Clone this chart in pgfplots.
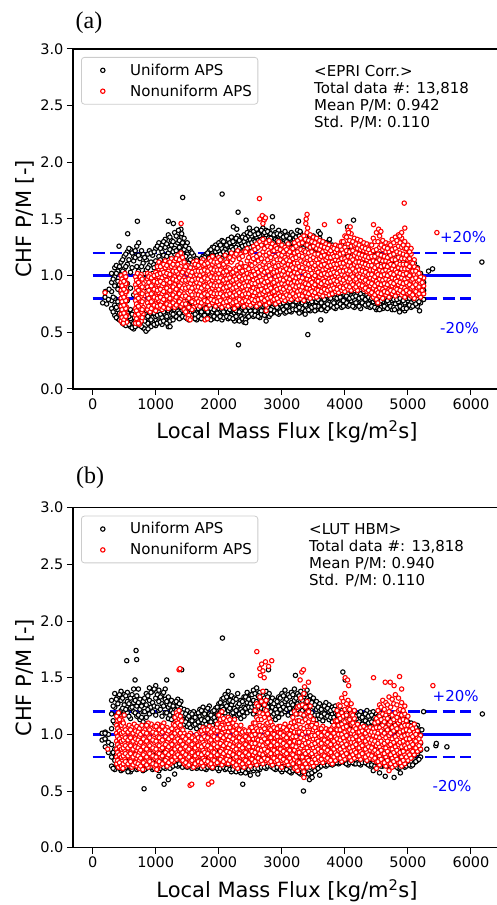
\documentclass[border=0pt]{standalone}
\usepackage{fontspec}
\setmainfont{DejaVu Sans}
\newfontfamily\lserif{Liberation Serif}
\usepackage{pgfplots}
\usepackage{pgfplotstable}
\pgfplotsset{compat=1.18}

% ---------------- Panel (a): EPRI Corr. ----------------
\pgfplotstableread{
x a b c d e f
300 0.71 0.78 0.86 0.94 1.02 nan
350 0.65 0.74 0.80 0.91 0.99 1.07
400 0.62 0.70 0.77 0.88 0.95 1.04
450 0.60 0.66 0.75 0.85 1.01 1.12
500 0.57 0.64 0.73 0.82 1.06 1.17
550 0.59 0.67 0.78 0.93 1.10 1.21
600 0.55 0.62 0.70 0.89 1.03 1.23
650 0.53 0.58 0.68 0.83 1.13 1.17
700 0.56 0.64 0.75 0.96 1.08 1.26
750 0.58 0.61 0.71 0.91 1.01 1.15
800 0.54 0.65 0.79 0.98 1.11 1.19
850 0.52 0.62 0.69 0.86 1.05 1.14
900 0.56 0.66 0.74 0.92 1.09 1.22
950 0.59 0.63 0.72 0.88 1.02 1.18
1000 0.56 0.64 0.70 0.84 1.13 1.24
1050 0.60 0.68 0.77 1.06 1.17 1.29
1100 0.57 0.63 0.71 1.10 1.21 1.27
1150 0.61 0.66 0.74 1.13 1.25 1.32
1200 0.55 0.69 0.76 1.15 1.20 1.36
1250 0.62 0.67 0.73 1.11 1.27 1.31
1300 0.63 0.70 0.77 1.19 1.24 1.38
1350 0.65 0.69 0.79 1.16 1.29 1.34
1400 0.63 0.72 0.76 1.21 1.26 1.41
1450 0.66 0.70 0.80 1.15 1.23 1.33
1500 0.62 0.68 0.75 1.12 1.19 1.29
1550 0.64 0.71 0.78 1.08 1.14 1.22
1600 0.63 0.68 0.74 1.04 1.11 1.18
1650 0.61 0.67 0.73 1.07 1.10 1.15
1700 0.65 0.70 0.77 1.03 1.09 1.13
1750 0.63 0.69 0.76 1.06 1.12 1.17
1800 0.66 0.72 0.79 1.09 1.14 1.19
1850 0.64 0.70 0.75 1.11 1.16 1.22
1900 0.62 0.68 0.74 1.13 1.18 1.25
1950 0.63 0.69 0.73 1.14 1.21 1.27
2000 0.64 0.71 0.77 1.16 1.22 1.29
2050 0.61 0.70 0.76 1.15 1.24 1.31
2100 0.66 0.72 0.78 1.19 1.23 1.28
2150 0.62 0.68 0.74 1.17 1.26 1.32
2200 0.65 0.69 0.75 1.21 1.25 1.34
2250 0.60 0.67 0.72 1.18 1.28 1.31
2300 0.62 0.66 0.73 1.22 1.27 1.35
2350 0.64 0.70 0.76 1.20 1.29 1.33
2400 0.59 0.67 0.74 1.24 1.30 1.36
2450 0.63 0.71 0.77 1.23 1.28 1.38
2500 0.65 0.69 0.75 1.25 1.32 1.37
2550 0.64 0.72 0.78 1.27 1.31 1.39
2600 0.66 0.70 0.76 1.24 1.34 1.41
2650 0.63 0.71 0.75 1.28 1.35 1.38
2700 0.67 0.73 0.78 1.30 1.33 1.42
2750 0.65 0.70 0.77 1.27 1.36 1.40
2800 0.64 0.69 0.75 1.29 1.37 1.39
2850 0.67 0.72 0.79 1.31 1.34 1.43
2900 0.68 0.74 0.80 1.26 1.32 1.38
2950 0.66 0.71 0.77 1.28 1.35 1.40
3000 0.69 0.73 0.78 1.27 1.33 1.37
3050 0.67 0.74 0.81 1.29 1.31 1.39
3100 0.70 0.72 0.79 1.25 1.34 1.36
3150 0.68 0.75 0.80 1.26 1.30 1.38
3200 0.71 0.73 0.82 1.28 1.32 1.35
3250 0.69 0.76 0.79 1.24 1.33 1.40
3300 0.68 0.74 0.80 1.27 1.30 1.37
3350 0.70 0.77 0.82 1.25 1.31 1.34
3400 0.72 0.75 0.81 1.23 1.29 1.36
3450 0.69 0.76 0.83 1.26 1.28 1.33
3500 0.71 0.74 0.80 1.22 1.30 1.35
3550 0.70 0.77 0.82 1.24 1.27 1.31
3600 0.72 0.75 0.81 1.21 1.26 1.33
3650 0.71 0.78 0.84 1.20 1.28 1.30
3700 0.69 0.76 0.82 1.19 1.24 1.29
3750 0.72 0.74 0.80 1.22 1.25 1.31
3800 0.73 0.78 0.83 1.18 1.23 1.27
3850 0.71 0.77 0.84 1.17 1.21 1.26
3900 0.74 0.76 0.82 1.16 1.22 1.24
3950 0.72 0.79 0.85 1.15 1.20 1.27
4000 0.74 0.77 0.83 1.17 1.19 1.23
4050 0.73 0.80 0.84 1.14 1.21 1.22
4100 0.75 0.78 0.86 1.13 1.18 1.24
4150 0.72 0.79 0.83 1.15 1.17 1.21
4200 0.74 0.77 0.85 1.12 1.19 1.20
4250 0.71 0.78 0.84 1.14 1.16 1.22
4300 0.75 0.80 0.86 1.11 1.18 1.19
4350 0.73 0.76 0.83 1.13 1.15 1.21
4400 0.72 0.79 0.84 1.10 1.17 1.18
4450 0.74 0.77 0.82 1.12 1.14 1.20
4500 0.70 0.78 0.85 1.09 1.16 1.17
4550 0.73 0.75 0.81 1.11 1.13 1.19
4600 0.71 0.77 0.83 1.08 1.15 1.16
4650 0.74 0.79 0.84 1.10 1.12 1.18
4700 0.72 0.76 0.82 1.07 1.14 1.15
4750 0.70 0.78 0.85 1.09 1.11 1.17
4800 0.73 0.75 0.81 1.08 1.13 1.16
4850 0.71 0.77 0.83 1.06 1.12 1.14
4900 0.74 0.79 0.84 1.09 1.10 1.15
4950 0.69 0.76 0.82 1.07 1.13 1.14
5000 0.73 0.78 0.85 1.05 1.11 1.12
5050 0.72 0.76 0.83 1.06 1.09 1.13
5100 0.74 0.80 0.86 1.04 1.08 1.11
5150 0.73 0.79 0.88 0.96 1.03 1.07
5200 0.76 0.83 0.91 0.98 1.02 nan
5250 0.79 0.87 0.94 nan nan nan
}\blackA

\pgfplotstableread{
x a b c d
325 0.68 0.81 0.97 nan
375 0.63 0.72 1.02 1.09
425 0.61 0.67 0.92 1.08
475 0.58 0.70 1.04 1.14
525 0.56 0.61 1.08 1.19
575 0.57 0.64 1.14 1.24
625 0.54 0.66 1.07 1.20
675 0.55 0.60 1.16 1.22
725 0.57 0.66 1.04 1.18
775 0.55 0.63 1.08 1.22
825 0.53 0.60 1.02 1.16
875 0.58 0.64 1.07 1.19
925 0.55 0.61 1.12 1.20
975 0.57 0.67 1.07 1.21
1025 0.58 0.65 1.10 1.26
1075 0.59 0.66 1.14 1.24
1125 0.60 0.68 1.18 1.30
1175 0.58 0.64 1.17 1.28
1225 0.60 0.71 1.23 1.34
1275 0.61 0.66 1.21 1.30
1325 0.64 0.72 1.22 1.35
1375 0.62 0.67 1.25 1.31
1425 0.64 0.74 1.19 1.29
1475 0.63 0.69 1.17 1.26
1525 0.61 0.73 1.11 1.24
1575 0.65 0.70 1.10 1.20
1625 0.62 0.66 1.08 1.13
1675 0.64 0.71 1.06 1.12
1725 0.62 0.68 1.09 1.15
1775 0.65 0.71 1.10 1.16
1825 0.63 0.68 1.12 1.20
1875 0.61 0.71 1.15 1.23
1925 0.64 0.70 1.16 1.25
1975 0.62 0.67 1.18 1.24
2025 0.65 0.73 1.19 1.27
2075 0.63 0.68 1.21 1.30
2125 0.64 0.71 1.20 1.27
2175 0.63 0.70 1.22 1.29
2225 0.62 0.71 1.23 1.30
2275 0.64 0.69 1.25 1.33
2325 0.60 0.68 1.24 1.31
2375 0.62 0.72 1.26 1.34
2425 0.61 0.69 1.27 1.33
2475 0.64 0.72 1.28 1.35
2525 0.66 0.73 1.29 1.35
2575 0.65 0.69 1.30 1.36
2625 0.64 0.73 1.31 1.37
2675 0.66 0.69 1.32 1.40
2725 0.65 0.74 1.33 1.38
2775 0.67 0.72 1.31 1.39
2825 0.66 0.70 1.33 1.37
2875 0.69 0.75 1.29 1.36
2925 0.67 0.72 1.31 1.37
2975 0.68 0.75 1.30 1.36
3025 0.70 0.76 1.28 1.34
3075 0.68 0.73 1.30 1.35
3125 0.69 0.77 1.28 1.33
3175 0.70 0.74 1.29 1.36
3225 0.70 0.77 1.30 1.34
3275 0.67 0.72 1.28 1.35
3325 0.71 0.76 1.29 1.33
3375 0.69 0.74 1.27 1.35
3425 0.70 0.78 1.26 1.31
3475 0.72 0.77 1.25 1.32
3525 0.69 0.73 1.24 1.29
3575 0.73 0.79 1.23 1.30
3625 0.70 0.76 1.23 1.27
3675 0.73 0.79 1.22 1.27
3725 0.71 0.75 1.21 1.26
3775 0.74 0.80 1.20 1.25
3825 0.72 0.76 1.19 1.24
3875 0.73 0.80 1.18 1.23
3925 0.75 0.81 1.18 1.21
3975 0.73 0.78 1.17 1.22
4025 0.76 0.82 1.16 1.20
4075 0.74 0.80 1.15 1.22
4125 0.73 0.81 1.16 1.19
4175 0.76 0.82 1.15 1.20
4225 0.73 0.80 1.14 1.18
4275 0.76 0.81 1.13 1.19
4325 0.74 0.79 1.14 1.17
4375 0.75 0.81 1.12 1.19
4425 0.73 0.80 1.13 1.16
4475 0.72 0.79 1.11 1.18
4525 0.71 0.79 1.12 1.15
4575 0.72 0.78 1.10 1.17
4625 0.73 0.80 1.11 1.14
4675 0.71 0.78 1.09 1.16
4725 0.73 0.80 1.10 1.13
4775 0.72 0.79 1.10 1.15
4825 0.72 0.79 1.09 1.14
4875 0.73 0.80 1.07 1.13
4925 0.71 0.78 1.08 1.12
4975 0.71 0.80 1.06 1.10
5025 0.74 0.80 1.07 1.11
5075 0.73 0.82 1.05 1.09
5125 0.75 0.83 1.01 1.05
5175 0.77 0.86 0.93 1.00
}\blackAA

\pgfplotstableread{
x a b c d e f g
450 0.60 0.66 0.73 0.80 0.87 0.94 1.00
480 0.58 0.64 0.70 0.77 0.85 0.92 0.98
510 0.62 0.68 0.75 0.83 0.90 0.96 1.02
540 0.59 0.65 0.72 0.79 0.86 0.93 nan
680 0.58 0.65 0.71 0.78 0.85 0.92 0.99
710 0.61 0.67 0.74 0.81 0.88 0.95 1.02
740 0.57 0.63 0.70 0.77 0.84 0.91 0.98
770 0.60 0.68 0.75 0.82 0.89 0.96 1.01
800 0.66 0.72 0.79 0.86 0.93 nan nan
870 0.70 0.76 0.83 0.90 0.97 1.02 nan
910 0.68 0.74 0.81 0.88 0.95 1.01 nan
950 0.71 0.78 0.85 0.92 0.99 nan nan
1000 0.69 0.75 0.82 0.89 0.96 1.03 nan
1050 0.72 0.78 0.85 0.92 0.99 1.06 1.12
1100 0.70 0.77 0.84 0.91 0.98 1.05 1.10
1150 0.73 0.79 0.86 0.93 1.00 1.07 1.13
1200 0.71 0.76 0.83 0.90 0.97 1.04 1.11
1250 0.74 0.80 0.87 0.94 1.01 1.08 1.15
1300 0.72 0.78 0.85 0.92 0.99 1.06 1.13
1350 0.75 0.81 0.88 0.95 1.02 1.10 1.18
1400 0.73 0.79 0.86 0.93 1.00 1.08 1.20
1450 0.70 0.77 0.84 0.91 0.98 1.05 1.12
1500 0.66 0.74 0.81 0.88 0.95 1.02 1.09
1550 0.63 0.71 0.79 0.86 0.93 1.00 1.07
1600 0.72 0.78 0.85 0.92 0.99 1.06 1.12
1650 0.74 0.80 0.87 0.94 1.01 1.08 1.13
1700 0.73 0.79 0.86 0.93 1.00 1.07 1.11
1750 0.75 0.81 0.88 0.95 1.02 1.09 1.14
1800 0.71 0.78 0.85 0.92 0.99 1.06 1.12
1850 0.74 0.80 0.87 0.94 1.01 1.08 1.15
1900 0.76 0.82 0.89 0.96 1.03 1.10 1.17
1950 0.73 0.79 0.86 0.93 1.00 1.07 1.14
2000 0.75 0.81 0.88 0.95 1.02 1.09 1.16
2050 0.72 0.78 0.85 0.92 0.99 1.06 1.13
2100 0.74 0.80 0.87 0.94 1.01 1.08 1.18
2150 0.73 0.79 0.86 0.93 1.00 1.07 1.15
2200 0.75 0.81 0.88 0.95 1.02 1.12 1.20
2250 0.72 0.78 0.85 0.92 0.99 1.06 1.17
2300 0.74 0.80 0.87 0.94 1.01 1.09 1.22
2350 0.76 0.82 0.89 0.96 1.03 1.11 1.19
2400 0.73 0.79 0.86 0.93 1.00 1.08 1.21
2450 0.75 0.81 0.88 0.95 1.02 1.13 1.24
2500 0.74 0.80 0.87 0.94 1.01 1.10 1.20
2550 0.76 0.82 0.89 0.96 1.04 1.15 1.26
2600 0.73 0.80 0.88 0.97 1.06 1.17 1.28
2650 0.75 0.83 0.91 0.99 1.08 1.19 1.30
2700 0.77 0.84 0.92 1.01 1.10 1.21 1.32
2750 0.74 0.82 0.90 0.98 1.07 1.18 1.29
2800 0.76 0.83 0.91 1.00 1.09 1.20 1.31
2850 0.78 0.85 0.93 1.02 1.11 1.22 1.28
2900 0.75 0.82 0.90 0.99 1.08 1.17 1.26
2950 0.77 0.84 0.92 1.00 1.09 1.19 1.30
3000 0.79 0.86 0.93 1.01 1.10 1.18 1.27
3050 0.78 0.85 0.92 1.00 1.08 1.16 1.25
3100 0.80 0.87 0.94 1.02 1.10 1.19 1.28
3150 0.79 0.86 0.93 1.01 1.09 1.17 1.24
3200 0.81 0.88 0.95 1.03 1.11 1.20 1.29
3250 0.79 0.86 0.94 1.02 1.11 1.21 1.31
3300 0.80 0.87 0.95 1.04 1.13 1.23 1.33
3350 0.78 0.86 0.94 1.03 1.12 1.22 1.35
3400 0.82 0.89 0.97 1.06 1.16 1.27 1.38
3450 0.80 0.88 0.96 1.05 1.14 1.25 1.36
3500 0.83 0.90 0.98 1.07 1.16 1.26 1.34
3550 0.81 0.88 0.96 1.05 1.14 1.24 1.33
3600 0.84 0.91 0.99 1.07 1.15 1.23 1.31
3650 0.82 0.89 0.97 1.05 1.13 1.21 1.30
3700 0.85 0.92 0.99 1.06 1.14 1.22 1.28
3750 0.83 0.90 0.97 1.04 1.12 1.20 1.27
3800 0.84 0.91 0.98 1.05 1.12 1.19 1.25
3850 0.86 0.93 1.00 1.07 1.14 1.21 1.27
3900 0.85 0.92 0.99 1.06 1.13 1.20 1.26
3950 0.87 0.94 1.01 1.08 1.15 1.23 1.30
4000 0.86 0.93 1.00 1.07 1.15 1.25 1.35
4050 0.88 0.95 1.02 1.09 1.17 1.28 1.40
4100 0.87 0.94 1.01 1.08 1.16 1.26 1.37
4150 0.89 0.96 1.03 1.10 1.18 1.27 1.33
4200 0.87 0.94 1.01 1.08 1.16 1.24 1.32
4250 0.90 0.96 1.02 1.09 1.16 1.23 1.31
4300 0.88 0.95 1.01 1.08 1.15 1.22 1.29
4350 0.86 0.93 1.00 1.07 1.14 1.21 1.28
4400 0.84 0.91 0.98 1.05 1.12 1.20 1.27
4450 0.81 0.89 0.97 1.05 1.13 1.22 1.33
4500 0.79 0.87 0.95 1.03 1.12 1.23 1.38
4550 0.82 0.89 0.97 1.05 1.14 1.25 1.35
4600 0.80 0.88 0.96 1.04 1.13 1.23 1.31
4650 0.83 0.90 0.97 1.05 1.13 1.21 1.29
4700 0.81 0.88 0.96 1.04 1.12 1.21 1.28
4750 0.84 0.91 0.98 1.06 1.14 1.23 1.32
4800 0.82 0.89 0.97 1.05 1.14 1.24 1.34
4850 0.85 0.92 0.99 1.07 1.16 1.26 1.36
4900 0.83 0.90 0.98 1.06 1.15 1.25 1.33
4950 0.81 0.89 0.97 1.06 1.15 1.24 1.30
5000 0.84 0.91 0.98 1.06 1.14 1.22 1.27
5050 0.82 0.89 0.96 1.04 1.12 1.19 1.24
5100 0.80 0.87 0.94 1.01 1.08 1.14 nan
5150 0.83 0.89 0.95 1.01 1.06 nan nan
5200 0.81 0.87 0.93 0.99 nan nan nan
5250 0.84 0.91 0.98 nan nan nan nan
}\redA

\pgfplotstableread{
x a b c d e f
465 0.63 0.70 0.77 0.84 0.91 0.97
495 0.61 0.67 0.74 0.81 0.88 0.95
525 0.64 0.71 0.78 0.86 0.93 0.99
695 0.62 0.69 0.75 0.82 0.89 0.96
725 0.59 0.66 0.73 0.80 0.87 0.94
755 0.64 0.71 0.78 0.85 0.92 0.99
785 0.63 0.70 0.77 0.84 0.90 0.97
890 0.73 0.80 0.87 0.94 0.99 nan
930 0.71 0.77 0.84 0.91 0.98 nan
975 0.74 0.81 0.88 0.95 1.00 nan
1025 0.73 0.80 0.87 0.94 1.01 1.08
1075 0.74 0.81 0.88 0.95 1.02 1.08
1125 0.72 0.79 0.86 0.93 1.03 1.10
1175 0.75 0.82 0.89 0.96 1.02 1.09
1225 0.74 0.80 0.87 0.94 1.01 1.12
1275 0.76 0.83 0.90 0.97 1.04 1.10
1325 0.74 0.81 0.88 0.96 1.04 1.15
1375 0.77 0.84 0.91 0.98 1.06 1.14
1425 0.75 0.82 0.89 0.96 1.03 1.16
1475 0.68 0.75 0.82 0.89 0.96 1.08
1525 0.65 0.72 0.80 0.90 0.97 1.04
1575 0.70 0.77 0.83 0.89 0.96 1.03
1625 0.76 0.83 0.90 0.97 1.04 1.10
1675 0.77 0.83 0.90 0.97 1.04 1.09
1725 0.76 0.82 0.89 0.96 1.04 1.12
1775 0.78 0.84 0.91 0.98 1.05 1.10
1825 0.77 0.83 0.90 0.97 1.04 1.11
1875 0.79 0.85 0.92 0.99 1.06 1.13
1925 0.78 0.84 0.91 0.98 1.05 1.12
1975 0.77 0.84 0.91 0.98 1.05 1.12
2025 0.78 0.84 0.91 0.98 1.05 1.14
2075 0.76 0.82 0.89 0.96 1.03 1.10
2125 0.77 0.83 0.90 0.97 1.04 1.12
2175 0.78 0.84 0.91 0.98 1.06 1.16
2225 0.76 0.82 0.89 0.96 1.03 1.14
2275 0.77 0.83 0.90 0.97 1.05 1.19
2325 0.79 0.85 0.92 0.99 1.07 1.15
2375 0.77 0.83 0.90 0.97 1.04 1.17
2425 0.78 0.84 0.91 0.98 1.08 1.21
2475 0.77 0.84 0.91 0.98 1.06 1.16
2525 0.79 0.86 0.93 1.00 1.09 1.21
2575 0.78 0.85 0.93 1.01 1.11 1.23
2625 0.79 0.87 0.95 1.03 1.13 1.25
2675 0.80 0.88 0.96 1.05 1.15 1.27
2725 0.78 0.86 0.94 1.03 1.12 1.24
2775 0.80 0.87 0.95 1.04 1.14 1.26
2825 0.81 0.89 0.97 1.06 1.16 1.25
2875 0.79 0.86 0.94 1.03 1.12 1.22
2925 0.80 0.88 0.96 1.04 1.14 1.24
2975 0.82 0.89 0.97 1.05 1.14 1.23
3025 0.81 0.88 0.96 1.04 1.12 1.21
3075 0.83 0.90 0.98 1.06 1.14 1.23
3125 0.82 0.89 0.97 1.05 1.13 1.21
3175 0.84 0.91 0.99 1.07 1.15 1.24
3225 0.82 0.90 0.98 1.06 1.16 1.26
3275 0.83 0.91 0.99 1.08 1.18 1.28
3325 0.82 0.90 0.98 1.07 1.17 1.29
3375 0.85 0.93 1.01 1.11 1.21 1.32
3425 0.84 0.92 1.00 1.10 1.20 1.31
3475 0.86 0.94 1.02 1.11 1.21 1.30
3525 0.85 0.92 1.00 1.09 1.19 1.29
3575 0.87 0.95 1.03 1.11 1.19 1.27
3625 0.86 0.93 1.01 1.09 1.17 1.26
3675 0.88 0.95 1.02 1.10 1.18 1.25
3725 0.87 0.94 1.01 1.08 1.16 1.24
3775 0.88 0.95 1.02 1.09 1.16 1.22
3825 0.89 0.96 1.03 1.10 1.17 1.24
3875 0.88 0.95 1.02 1.10 1.17 1.23
3925 0.90 0.97 1.04 1.11 1.19 1.26
3975 0.89 0.96 1.04 1.11 1.20 1.30
4025 0.91 0.98 1.05 1.13 1.22 1.34
4075 0.90 0.97 1.04 1.12 1.21 1.31
4125 0.92 0.99 1.06 1.14 1.22 1.30
4175 0.90 0.97 1.04 1.12 1.20 1.28
4225 0.92 0.99 1.05 1.12 1.19 1.27
4275 0.91 0.98 1.04 1.11 1.18 1.25
4325 0.89 0.96 1.03 1.10 1.17 1.24
4375 0.87 0.94 1.01 1.09 1.16 1.23
4425 0.85 0.93 1.01 1.09 1.17 1.27
4475 0.83 0.91 0.99 1.07 1.17 1.30
4525 0.85 0.93 1.01 1.09 1.19 1.30
4575 0.84 0.92 1.00 1.08 1.18 1.27
4625 0.86 0.93 1.01 1.09 1.17 1.25
4675 0.85 0.92 1.00 1.08 1.16 1.24
4725 0.87 0.94 1.02 1.10 1.18 1.27
4775 0.86 0.93 1.01 1.09 1.19 1.29
4825 0.88 0.95 1.03 1.11 1.21 1.31
4875 0.87 0.94 1.02 1.10 1.20 1.29
4925 0.85 0.93 1.01 1.10 1.19 1.27
4975 0.87 0.94 1.02 1.10 1.18 1.24
5025 0.85 0.92 1.00 1.08 1.15 1.21
5075 0.83 0.90 0.97 1.04 1.11 nan
5125 0.86 0.92 0.98 1.04 nan nan
5175 0.84 0.90 0.96 1.02 nan nan
5225 0.87 0.94 nan nan nan nan
}\redAA

% ---------------- Panel (b): LUT HBM ----------------
\pgfplotstableread{
x a b c d e f
150 0.95 1.01 nan nan nan nan
200 0.89 0.96 1.02 nan nan nan
250 0.84 0.93 1.00 nan nan nan
300 0.72 0.80 0.91 1.05 1.18 1.30
350 0.69 0.77 0.87 1.10 1.24 1.36
400 0.71 0.79 0.93 1.15 1.27 1.33
450 0.68 0.75 0.85 1.21 1.30 1.38
500 0.72 0.80 0.89 1.17 1.26 1.35
550 0.70 0.76 0.84 1.19 1.29 1.37
600 0.67 0.74 0.82 1.14 1.23 1.32
650 0.71 0.78 0.86 1.20 1.28 1.40
700 0.69 0.75 0.83 1.16 1.25 1.34
750 0.72 0.79 0.87 1.13 1.22 1.31
800 0.68 0.76 0.85 1.11 1.20 1.29
850 0.70 0.77 0.84 1.15 1.26 1.36
900 0.73 0.80 0.88 1.18 1.30 1.41
950 0.69 0.76 0.83 1.20 1.28 1.38
1000 0.71 0.78 0.86 1.17 1.32 1.43
1050 0.68 0.75 0.84 1.21 1.29 1.39
1100 0.72 0.79 0.87 1.16 1.27 1.35
1150 0.70 0.77 0.85 1.19 1.31 1.40
1200 0.73 0.80 0.88 1.14 1.24 1.33
1250 0.71 0.78 0.86 1.13 1.21 1.30
1300 0.74 0.80 0.87 1.15 1.22 1.28
1350 0.72 0.79 0.85 1.18 1.25 1.31
1400 0.75 0.81 0.88 1.16 1.23 1.29
1450 0.73 0.78 0.86 1.09 1.17 1.22
1500 0.71 0.77 0.84 1.07 1.14 1.21
1550 0.74 0.80 0.87 1.06 1.12 1.19
1600 0.72 0.79 0.85 1.08 1.15 1.20
1650 0.70 0.77 0.83 1.05 1.13 1.18
1700 0.73 0.78 0.86 1.07 1.16 1.22
1750 0.71 0.76 0.84 1.10 1.17 1.24
1800 0.69 0.75 0.82 1.09 1.15 1.21
1850 0.72 0.78 0.85 1.11 1.18 1.25
1900 0.70 0.76 0.83 1.08 1.14 1.20
1950 0.73 0.79 0.86 1.12 1.19 1.23
2000 0.68 0.75 0.82 1.14 1.21 1.27
2050 0.71 0.77 0.84 1.16 1.24 1.31
2100 0.69 0.76 0.83 1.19 1.27 1.35
2150 0.72 0.78 0.85 1.21 1.29 1.38
2200 0.67 0.74 0.81 1.18 1.26 1.34
2250 0.70 0.77 0.84 1.15 1.23 1.32
2300 0.68 0.75 0.82 1.17 1.25 1.36
2350 0.66 0.73 0.80 1.14 1.22 1.30
2400 0.69 0.76 0.83 1.16 1.24 1.33
2450 0.67 0.74 0.81 1.19 1.28 1.37
2500 0.70 0.77 0.84 1.21 1.27 1.35
2550 0.68 0.75 0.82 1.18 1.30 1.39
2600 0.71 0.78 0.85 1.20 1.29 1.41
2650 0.69 0.76 0.83 1.22 1.31 1.37
2700 0.72 0.79 0.86 1.19 1.27 1.34
2750 0.70 0.77 0.84 1.17 1.26 1.38
2800 0.73 0.80 0.87 1.21 1.28 1.36
2850 0.71 0.78 0.85 1.16 1.24 1.32
2900 0.69 0.76 0.83 1.13 1.22 1.30
2950 0.72 0.79 0.86 1.15 1.25 1.33
3000 0.67 0.75 0.82 1.18 1.27 1.36
3050 0.70 0.77 0.84 1.20 1.29 1.39
3100 0.68 0.74 0.81 1.17 1.26 1.35
3150 0.66 0.73 0.80 1.19 1.28 1.37
3200 0.69 0.76 0.83 1.22 1.30 1.40
3250 0.67 0.74 0.81 1.18 1.27 1.36
3300 0.65 0.72 0.79 1.20 1.29 1.38
3350 0.68 0.75 0.82 1.16 1.25 1.33
3400 0.66 0.73 0.80 1.19 1.28 1.39
3450 0.64 0.71 0.78 1.17 1.26 1.34
3500 0.67 0.74 0.81 1.15 1.24 1.32
3550 0.69 0.76 0.83 1.13 1.22 1.29
3600 0.71 0.77 0.84 1.14 1.21 1.27
3650 0.73 0.79 0.85 1.12 1.19 1.25
3700 0.72 0.78 0.84 1.15 1.22 1.28
3750 0.74 0.80 0.86 1.13 1.20 1.26
3800 0.73 0.79 0.85 1.11 1.18 1.24
3850 0.75 0.81 0.87 1.12 1.19 1.25
3900 0.74 0.80 0.86 1.10 1.17 1.23
3950 0.76 0.82 0.88 1.11 1.16 1.21
4000 0.75 0.81 0.87 1.09 1.15 1.20
4050 0.73 0.79 0.85 1.10 1.16 1.22
4100 0.76 0.82 0.88 1.08 1.14 1.19
4150 0.74 0.80 0.86 1.09 1.15 1.21
4200 0.75 0.81 0.87 1.07 1.13 1.18
4250 0.73 0.79 0.85 1.08 1.14 1.20
4300 0.76 0.82 0.88 1.06 1.12 1.17
4350 0.74 0.80 0.86 1.09 1.15 1.21
4400 0.72 0.78 0.84 1.07 1.13 1.19
4450 0.75 0.81 0.87 1.08 1.14 1.20
4500 0.71 0.77 0.83 1.06 1.12 1.18
4550 0.73 0.79 0.85 1.07 1.13 1.19
4600 0.72 0.78 0.84 1.05 1.11 1.17
4650 0.74 0.80 0.86 1.06 1.12 1.16
4700 0.71 0.77 0.83 1.04 1.10 1.15
4750 0.73 0.79 0.85 1.05 1.11 1.14
4800 0.72 0.78 0.84 1.03 1.09 1.13
4850 0.70 0.77 0.83 1.04 1.10 1.14
4900 0.73 0.79 0.85 1.02 1.08 1.12
4950 0.71 0.78 0.84 1.03 1.09 1.13
5000 0.74 0.80 0.86 1.01 1.07 1.11
5050 0.72 0.79 0.85 1.00 1.06 1.10
5100 0.75 0.81 0.87 0.99 1.05 1.09
5150 0.77 0.83 0.89 0.97 1.03 1.08
5200 0.80 0.86 0.92 0.99 1.04 nan
}\blackB

\pgfplotstableread{
x a b c d
325 0.70 0.84 1.12 1.25
375 0.73 0.82 1.17 1.31
425 0.70 0.81 1.19 1.35
475 0.69 0.78 1.23 1.32
525 0.71 0.82 1.22 1.34
575 0.68 0.79 1.16 1.27
625 0.69 0.80 1.24 1.35
675 0.73 0.80 1.19 1.30
725 0.70 0.81 1.17 1.28
775 0.71 0.78 1.15 1.25
825 0.69 0.81 1.20 1.32
875 0.71 0.79 1.22 1.34
925 0.71 0.80 1.24 1.37
975 0.70 0.81 1.25 1.40
1025 0.73 0.80 1.24 1.35
1075 0.70 0.81 1.22 1.33
1125 0.71 0.83 1.25 1.37
1175 0.72 0.81 1.19 1.29
1225 0.70 0.82 1.17 1.26
1275 0.72 0.83 1.19 1.25
1325 0.73 0.82 1.21 1.29
1375 0.74 0.84 1.20 1.27
1425 0.71 0.82 1.13 1.19
1475 0.72 0.81 1.11 1.18
1525 0.73 0.83 1.09 1.16
1575 0.70 0.82 1.12 1.18
1625 0.71 0.80 1.09 1.15
1675 0.72 0.81 1.11 1.19
1725 0.70 0.80 1.13 1.21
1775 0.70 0.79 1.12 1.18
1825 0.71 0.82 1.14 1.23
1875 0.71 0.79 1.11 1.17
1925 0.72 0.82 1.15 1.21
1975 0.70 0.80 1.17 1.24
2025 0.70 0.81 1.20 1.28
2075 0.71 0.80 1.22 1.32
2125 0.70 0.82 1.25 1.33
2175 0.69 0.79 1.23 1.30
2225 0.69 0.81 1.19 1.29
2275 0.67 0.79 1.21 1.31
2325 0.68 0.77 1.18 1.27
2375 0.68 0.79 1.20 1.29
2425 0.66 0.78 1.23 1.33
2475 0.69 0.80 1.24 1.31
2525 0.70 0.79 1.24 1.35
2575 0.70 0.82 1.25 1.36
2625 0.70 0.80 1.26 1.34
2675 0.71 0.82 1.23 1.31
2725 0.71 0.81 1.22 1.32
2775 0.72 0.82 1.24 1.33
2825 0.72 0.81 1.20 1.29
2875 0.70 0.80 1.18 1.27
2925 0.71 0.79 1.19 1.29
2975 0.69 0.78 1.22 1.32
3025 0.69 0.80 1.24 1.34
3075 0.69 0.78 1.22 1.31
3125 0.67 0.77 1.23 1.33
3175 0.68 0.79 1.26 1.35
3225 0.68 0.78 1.24 1.32
3275 0.66 0.76 1.25 1.34
3325 0.67 0.78 1.21 1.30
3375 0.65 0.77 1.23 1.35
3425 0.65 0.75 1.21 1.30
3475 0.66 0.77 1.19 1.28
3525 0.68 0.79 1.17 1.26
3575 0.70 0.80 1.17 1.24
3625 0.72 0.81 1.16 1.22
3675 0.73 0.81 1.18 1.25
3725 0.73 0.83 1.16 1.23
3775 0.74 0.82 1.15 1.21
3825 0.74 0.84 1.15 1.22
3875 0.75 0.83 1.13 1.20
3925 0.75 0.85 1.14 1.19
3975 0.76 0.84 1.12 1.18
4025 0.74 0.83 1.13 1.19
4075 0.75 0.85 1.11 1.17
4125 0.75 0.83 1.12 1.18
4175 0.74 0.84 1.10 1.16
4225 0.74 0.82 1.11 1.17
4275 0.75 0.85 1.09 1.15
4325 0.75 0.83 1.12 1.18
4375 0.73 0.82 1.10 1.16
4425 0.73 0.84 1.11 1.17
4475 0.72 0.80 1.09 1.15
4525 0.72 0.82 1.10 1.16
4575 0.72 0.81 1.08 1.14
4625 0.73 0.83 1.09 1.14
4675 0.72 0.80 1.07 1.13
4725 0.72 0.82 1.08 1.12
4775 0.72 0.81 1.06 1.11
4825 0.71 0.80 1.07 1.12
4875 0.71 0.81 1.05 1.11
4925 0.72 0.82 1.06 1.10
4975 0.72 0.83 1.04 1.09
5025 0.73 0.82 1.03 1.08
5075 0.73 0.84 1.02 1.07
5125 0.76 0.85 1.00 1.06
5175 0.78 0.88 0.98 1.03
}\blackBB

\pgfplotstableread{
x a b c d e f g
380 0.74 0.80 0.87 0.94 1.01 1.08 1.16
410 0.71 0.78 0.85 0.92 0.99 1.06 1.19
440 0.73 0.81 0.88 0.95 1.02 1.10 1.14
470 0.70 0.77 0.84 0.91 0.98 1.05 1.12
500 0.72 0.79 0.86 0.93 1.00 1.07 1.17
540 0.75 0.82 0.89 0.96 1.03 nan nan
580 0.73 0.80 0.87 0.94 1.01 1.08 nan
620 0.71 0.78 0.85 0.92 0.99 1.06 nan
660 0.74 0.81 0.88 0.95 1.02 1.09 nan
700 0.72 0.79 0.86 0.93 1.00 1.07 nan
740 0.70 0.77 0.84 0.91 0.98 1.05 nan
780 0.73 0.80 0.87 0.94 1.01 1.08 nan
830 0.76 0.83 0.90 0.97 1.04 nan nan
880 0.71 0.78 0.85 0.92 0.99 1.06 1.10
930 0.74 0.81 0.88 0.95 1.02 1.09 nan
980 0.72 0.79 0.86 0.93 1.00 1.07 nan
1030 0.70 0.77 0.84 0.91 0.98 1.05 1.09
1080 0.73 0.80 0.87 0.94 1.01 1.08 nan
1130 0.75 0.82 0.89 0.96 1.03 1.10 nan
1180 0.72 0.79 0.86 0.93 1.00 1.06 nan
1230 0.74 0.81 0.88 0.95 1.02 nan nan
1280 0.76 0.83 0.90 0.97 1.04 1.09 nan
1330 0.78 0.85 0.92 0.99 1.06 1.13 1.19
1370 0.80 0.86 0.93 1.00 1.07 1.14 1.21
1410 0.77 0.84 0.91 0.98 1.05 1.12 nan
1450 0.74 0.81 0.88 0.95 1.01 nan nan
1500 0.72 0.79 0.86 0.93 0.99 nan nan
1550 0.75 0.82 0.89 0.96 1.01 nan nan
1600 0.71 0.78 0.85 0.92 0.98 nan nan
1650 0.73 0.80 0.87 0.94 1.00 nan nan
1700 0.74 0.81 0.88 0.95 1.02 nan nan
1750 0.72 0.79 0.86 0.93 1.00 1.06 nan
1800 0.75 0.82 0.89 0.96 1.03 nan nan
1850 0.73 0.80 0.87 0.94 1.01 1.07 nan
1900 0.71 0.78 0.85 0.92 0.99 1.05 nan
1950 0.74 0.81 0.88 0.95 1.02 nan nan
2000 0.76 0.82 0.89 0.96 1.03 1.10 1.17
2050 0.73 0.80 0.87 0.94 1.01 1.08 1.20
2100 0.75 0.82 0.89 0.96 1.03 1.11 nan
2150 0.74 0.81 0.88 0.95 1.02 1.09 1.15
2200 0.76 0.83 0.90 0.97 1.04 1.12 nan
2250 0.72 0.79 0.86 0.93 1.00 1.07 1.13
2300 0.70 0.77 0.84 0.91 0.98 1.05 nan
2350 0.73 0.80 0.87 0.94 1.01 1.08 nan
2400 0.71 0.78 0.85 0.92 0.99 1.04 nan
2450 0.74 0.81 0.88 0.95 1.02 nan nan
2500 0.72 0.79 0.86 0.93 1.00 1.06 nan
2550 0.75 0.82 0.89 0.96 1.03 1.10 nan
2600 0.73 0.80 0.88 0.96 1.05 1.15 1.27
2650 0.76 0.83 0.91 0.99 1.08 1.19 1.33
2700 0.74 0.82 0.90 0.98 1.07 1.18 1.38
2750 0.77 0.84 0.92 1.00 1.09 1.21 1.30
2800 0.75 0.82 0.89 0.97 1.05 1.14 nan
2850 0.73 0.80 0.87 0.94 1.01 1.08 nan
2900 0.76 0.83 0.90 0.97 1.04 nan nan
2950 0.74 0.81 0.88 0.95 1.02 1.07 nan
3000 0.77 0.84 0.91 0.98 1.05 nan nan
3050 0.75 0.82 0.89 0.96 1.03 1.09 nan
3100 0.73 0.80 0.87 0.94 1.01 1.06 nan
3150 0.76 0.83 0.90 0.97 1.04 1.10 nan
3200 0.70 0.78 0.86 0.94 1.02 1.11 1.20
3250 0.68 0.76 0.84 0.93 1.02 1.12 1.24
3300 0.72 0.80 0.88 0.97 1.06 1.18 1.32
3350 0.67 0.76 0.85 0.95 1.05 1.17 1.36
3400 0.71 0.79 0.88 0.97 1.07 1.19 1.29
3450 0.74 0.82 0.90 0.98 1.07 1.16 1.25
3500 0.72 0.80 0.88 0.96 1.04 1.13 nan
3550 0.75 0.82 0.89 0.96 1.03 1.09 nan
3600 0.77 0.84 0.91 0.98 1.05 nan nan
3650 0.75 0.82 0.89 0.96 1.03 1.07 nan
3700 0.78 0.85 0.92 0.99 1.05 nan nan
3750 0.76 0.83 0.90 0.97 1.04 nan nan
3800 0.74 0.81 0.88 0.95 1.02 1.06 nan
3850 0.77 0.84 0.91 0.98 1.05 1.12 nan
3900 0.79 0.86 0.93 1.00 1.08 1.17 1.26
3950 0.76 0.84 0.92 1.00 1.09 1.19 1.32
4000 0.78 0.86 0.94 1.02 1.11 1.22 1.36
4050 0.80 0.87 0.95 1.03 1.12 1.23 1.30
4100 0.77 0.85 0.93 1.01 1.09 1.18 1.27
4150 0.79 0.86 0.93 1.00 1.07 1.14 1.21
4200 0.81 0.88 0.95 1.02 1.09 nan nan
4250 0.78 0.85 0.92 0.99 1.06 nan nan
4300 0.80 0.87 0.94 1.01 1.07 nan nan
4350 0.77 0.84 0.91 0.98 1.05 nan nan
4400 0.79 0.86 0.93 1.00 1.06 nan nan
4450 0.78 0.85 0.92 0.99 1.05 nan nan
4500 0.76 0.83 0.90 0.98 1.06 1.14 nan
4550 0.73 0.81 0.89 0.97 1.06 1.16 1.26
4600 0.75 0.83 0.91 0.99 1.08 1.18 1.30
4650 0.72 0.80 0.88 0.97 1.06 1.17 1.28
4700 0.74 0.82 0.90 0.99 1.09 1.20 1.33
4750 0.71 0.79 0.87 0.96 1.06 1.17 1.31
4800 0.73 0.81 0.89 0.98 1.08 1.19 1.35
4850 0.75 0.83 0.91 1.00 1.10 1.21 1.32
4900 0.72 0.80 0.89 0.98 1.07 1.17 1.28
4950 0.74 0.82 0.90 0.99 1.08 1.18 1.25
5000 0.77 0.84 0.92 1.00 1.08 1.16 nan
5050 0.79 0.86 0.93 1.00 1.07 nan nan
5100 0.82 0.88 0.95 1.02 1.09 nan nan
5150 0.85 0.91 0.97 1.03 nan nan nan
5200 0.87 0.93 0.99 nan nan nan nan
}\redB

\pgfplotstableread{
x a b c d e f
395 0.77 0.84 0.91 0.98 1.05 1.12
425 0.75 0.82 0.89 0.96 1.03 1.13
455 0.72 0.80 0.87 0.94 1.01 1.08
485 0.74 0.81 0.88 0.95 1.02 1.10
520 0.76 0.83 0.90 0.97 1.04 nan
560 0.74 0.81 0.88 0.95 1.02 nan
600 0.76 0.83 0.90 0.97 1.04 nan
640 0.73 0.80 0.87 0.94 1.01 nan
680 0.75 0.82 0.89 0.96 1.03 nan
720 0.74 0.81 0.88 0.95 1.02 nan
760 0.72 0.79 0.86 0.93 1.00 nan
805 0.75 0.82 0.89 0.96 1.02 nan
855 0.73 0.80 0.87 0.94 1.01 1.08
905 0.76 0.83 0.90 0.97 1.04 nan
955 0.74 0.81 0.88 0.95 1.02 nan
1005 0.73 0.80 0.87 0.94 1.01 1.07
1055 0.76 0.83 0.90 0.97 1.04 nan
1105 0.74 0.81 0.88 0.95 1.02 1.07
1155 0.77 0.84 0.91 0.98 1.04 nan
1205 0.75 0.82 0.89 0.96 1.03 nan
1255 0.77 0.84 0.91 0.98 1.05 nan
1305 0.80 0.87 0.94 1.01 1.08 1.15
1350 0.82 0.89 0.96 1.03 1.10 1.17
1390 0.80 0.87 0.94 1.01 1.08 1.16
1430 0.77 0.84 0.91 0.98 1.04 nan
1475 0.75 0.82 0.89 0.96 nan nan
1525 0.73 0.80 0.87 0.94 0.99 nan
1575 0.77 0.84 0.91 0.97 nan nan
1625 0.74 0.81 0.88 0.95 nan nan
1675 0.76 0.83 0.90 0.97 nan nan
1725 0.75 0.82 0.89 0.96 1.03 nan
1775 0.77 0.84 0.91 0.98 1.04 nan
1825 0.76 0.83 0.90 0.97 1.04 nan
1875 0.74 0.81 0.88 0.95 1.02 nan
1925 0.77 0.84 0.91 0.98 1.04 nan
1975 0.75 0.82 0.89 0.96 1.03 1.09
2025 0.78 0.85 0.92 0.99 1.06 1.13
2075 0.76 0.83 0.90 0.97 1.05 1.14
2125 0.78 0.85 0.92 0.99 1.06 1.12
2175 0.77 0.84 0.91 0.98 1.06 1.13
2225 0.75 0.82 0.89 0.96 1.03 1.10
2275 0.73 0.80 0.87 0.94 1.01 1.08
2325 0.76 0.83 0.90 0.97 1.04 nan
2375 0.74 0.81 0.88 0.95 1.02 nan
2425 0.77 0.84 0.91 0.98 1.03 nan
2475 0.75 0.82 0.89 0.96 1.03 nan
2525 0.78 0.85 0.92 0.99 1.06 nan
2575 0.76 0.84 0.92 1.00 1.10 1.21
2625 0.79 0.87 0.95 1.03 1.13 1.25
2675 0.77 0.86 0.94 1.03 1.13 1.29
2725 0.79 0.87 0.96 1.05 1.15 1.26
2775 0.78 0.85 0.93 1.01 1.10 1.18
2825 0.76 0.83 0.90 0.97 1.04 1.11
2875 0.79 0.86 0.93 1.00 1.06 nan
2925 0.77 0.84 0.91 0.98 1.05 nan
2975 0.80 0.87 0.94 1.01 1.07 nan
3025 0.78 0.85 0.92 0.99 1.06 nan
3075 0.76 0.83 0.90 0.97 1.04 nan
3125 0.79 0.86 0.93 1.00 1.07 nan
3175 0.74 0.82 0.90 0.98 1.06 1.15
3225 0.71 0.80 0.89 0.98 1.07 1.18
3275 0.75 0.84 0.93 1.02 1.12 1.25
3325 0.71 0.80 0.90 1.00 1.11 1.26
3375 0.74 0.83 0.92 1.02 1.13 1.24
3425 0.77 0.85 0.93 1.02 1.11 1.20
3475 0.75 0.83 0.91 0.99 1.08 nan
3525 0.78 0.85 0.92 0.99 1.06 nan
3575 0.80 0.87 0.94 1.01 nan nan
3625 0.78 0.85 0.92 0.99 1.05 nan
3675 0.81 0.88 0.95 1.02 nan nan
3725 0.79 0.86 0.93 1.00 nan nan
3775 0.77 0.84 0.91 0.98 1.04 nan
3825 0.80 0.87 0.94 1.01 1.08 nan
3875 0.82 0.89 0.96 1.04 1.12 1.21
3925 0.79 0.87 0.95 1.04 1.14 1.25
3975 0.81 0.89 0.97 1.06 1.16 1.29
4025 0.83 0.91 0.99 1.07 1.17 1.27
4075 0.80 0.88 0.96 1.04 1.13 1.22
4125 0.82 0.89 0.96 1.03 1.10 1.17
4175 0.84 0.91 0.98 1.05 nan nan
4225 0.81 0.88 0.95 1.02 nan nan
4275 0.83 0.90 0.97 1.03 nan nan
4325 0.80 0.87 0.94 1.01 nan nan
4375 0.82 0.89 0.96 1.03 nan nan
4425 0.81 0.88 0.95 1.02 nan nan
4475 0.79 0.86 0.94 1.02 1.10 nan
4525 0.76 0.84 0.92 1.01 1.11 1.21
4575 0.78 0.86 0.94 1.03 1.13 1.24
4625 0.75 0.83 0.92 1.01 1.11 1.22
4675 0.77 0.85 0.94 1.04 1.14 1.26
4725 0.74 0.82 0.91 1.01 1.11 1.24
4775 0.76 0.84 0.93 1.03 1.13 1.27
4825 0.78 0.86 0.95 1.05 1.15 1.26
4875 0.75 0.84 0.93 1.02 1.12 1.22
4925 0.77 0.85 0.94 1.03 1.13 1.21
4975 0.80 0.88 0.96 1.04 1.12 nan
5025 0.82 0.89 0.96 1.03 nan nan
5075 0.85 0.91 0.98 1.05 nan nan
5125 0.88 0.94 1.00 nan nan nan
5175 0.90 0.96 nan nan nan nan
}\redBB

\pgfplotsset{
  /pgf/number format/assume math mode=true,
  chfaxis/.style={
    scale only axis, width=428pt, height=340pt,
    xmin=-312, xmax=6476, ymin=0, ymax=3,
    xtick={0,1000,2000,3000,4000,5000,6000},
    ytick={0,0.5,1,1.5,2,2.5,3},
    tick pos=left, tick align=outside, major tick length=6pt,
    every tick/.style={black, line width=1pt},
    axis line style={line width=1.1pt, black},
    xticklabel style={font=\fontsize{14.5}{16}\selectfont, /pgf/number format/1000 sep={}},
    yticklabel style={font=\fontsize{14.5}{16}\selectfont, /pgf/number format/fixed, /pgf/number format/fixed zerofill, /pgf/number format/precision=1},
    xlabel={Local Mass Flux [kg/m\textsuperscript{2}s]},
    ylabel={CHF P/M [-]},
    label style={font=\fontsize{21}{25}\selectfont},
    xlabel style={at={(axis description cs:0.5,-0.147)}, anchor=base},
    ylabel style={at={(axis description cs:-0.0981,0.5)}, anchor=base},
    legend cell align=left,
    legend image code/.code={\draw[##1] plot coordinates {(15pt,0pt)}; \path (0pt,0pt) (30pt,0pt);},
    legend style={at={(0.0187,0.9765)}, anchor=north west, draw=black!20, line width=0.8pt,
      rounded corners=3pt, fill=white, font=\fontsize{15}{18}\selectfont,
      inner xsep=6pt, inner ysep=2.5pt, nodes={inner xsep=0pt, inner ysep=4pt},
      /tikz/every odd column/.append style={column sep=12pt}},
  },
  blk/.style={only marks, mark=*, mark size=2.2pt, mark options={draw=black, fill=white, line width=1.1pt}},
  rd/.style={only marks, mark=*, mark size=2.2pt, mark options={draw=red, fill=white, line width=1.1pt}},
  refl/.style={blue, line width=2.5pt, forget plot},
  refd/.style={blue, line width=2.5pt, dash pattern=on 12pt off 5.5pt, forget plot},
}

\begin{document}
\begin{tikzpicture}
\useasboundingbox (0,0) rectangle (497pt,905pt);

% ======== (a) ========
\node[font=\lserif\fontsize{24}{28}\selectfont] at (89pt,882.5pt) {(a)};
\begin{axis}[chfaxis, at={(73pt,516pt)}, anchor=south west]
  \addplot[refl] coordinates {(0,1) (6000,1)};
  \addplot[refd] coordinates {(0,1.2) (6000,1.2)};
  \addplot[refd] coordinates {(0,0.8) (6000,0.8)};
  \addlegendimage{blk}
  \addlegendentry{Uniform APS}
  \addlegendimage{rd}
  \addlegendentry{Nonuniform APS}
  \pgfplotsinvokeforeach{1,...,6}{\addplot[blk, forget plot] table[x index=0, y index=#1] {\blackA};}
  \pgfplotsinvokeforeach{1,...,4}{\addplot[blk, forget plot] table[x index=0, y index=#1] {\blackAA};}
  \addplot[blk, forget plot] coordinates {
    (159,0.76)(222,0.75)(196,0.81)(250,0.79)(200,0.86)(260,0.88)
    (709,1.48)(555,1.37)(418,1.26)(730,1.29)(1200,1.48)(1280,1.46)(1360,1.40)(1412,1.37)
    (1428,1.69)(2053,1.72)(2306,1.56)(2433,1.49)(2232,1.43)(2285,1.41)(2486,1.42)(2497,1.37)
    (2851,1.52)(2708,1.52)(3264,1.48)(3290,1.39)(3581,1.39)(3608,1.37)(3756,1.32)(4137,1.49)
    (4042,1.43)(2312,0.39)(3412,0.48)(846,0.51)(878,0.53)(1227,0.55)(2750,0.60)(2428,0.585)
    (2020,0.64)(3370,0.66)(3618,0.61)(4550,0.70)(4867,0.68)(4787,0.70)(5184,0.69)(5327,1.04)
    (5390,1.06)(6173,1.12)};
  \pgfplotsinvokeforeach{1,...,7}{\addplot[rd, forget plot] table[x index=0, y index=#1] {\redA};}
  \pgfplotsinvokeforeach{1,...,6}{\addplot[rd, forget plot] table[x index=0, y index=#1] {\redAA};}
  \addplot[rd, forget plot] coordinates {
    (196,0.85)(487,0.58)(725,0.58)(1513,0.62)(1545,0.61)(1783,0.61)(1820,0.62)(2248,0.71)
    (2750,0.69)(4523,0.76)(1402,1.46)(2645,1.68)(4941,1.64)(5459,1.38)(2650,1.50)(2690,1.53)
    (2720,1.49)(2700,1.46)(2740,1.51)(3386,1.50)(3400,1.54)(3380,1.46)(3410,1.42)(3676,1.45)
    (3914,1.48)(4454,1.45)(4534,1.41)(4571,1.39)(4084,1.43)(4060,1.38)(4900,1.38)(4950,1.42)
    (4870,1.35)};
  \node[anchor=west, inner sep=0pt, text=blue, font=\fontsize{15}{18}\selectfont] at (axis cs:5508,1.34) {+20\%};
  \node[anchor=west, inner sep=0pt, text=blue, font=\fontsize{15}{18}\selectfont] at (axis cs:5508,0.54) {-20\%};
\end{axis}
\begin{scope}[font=\fontsize{15}{18}\selectfont]
  \node[anchor=base west, inner sep=0pt] at (314pt,828pt) {<EPRI Corr.>};
  \node[anchor=base west, inner sep=0pt] at (314pt,811pt) {Total data \#: 13,818};
  \node[anchor=base west, inner sep=0pt] at (314pt,794pt) {Mean P/M: 0.942};
  \node[anchor=base west, inner sep=0pt] at (314pt,777pt) {Std. P/M: 0.110};
\end{scope}

% ======== (b) ========
\node[font=\lserif\fontsize{24}{28}\selectfont] at (90pt,427.5pt) {(b)};
\begin{axis}[chfaxis, at={(73pt,57.3pt)}, anchor=south west]
  \addplot[refl] coordinates {(0,1) (6000,1)};
  \addplot[refd] coordinates {(0,1.2) (6000,1.2)};
  \addplot[refd] coordinates {(0,0.8) (6000,0.8)};
  \addlegendimage{blk}
  \addlegendentry{Uniform APS}
  \addlegendimage{rd}
  \addlegendentry{Nonuniform APS}
  \pgfplotsinvokeforeach{1,...,6}{\addplot[blk, forget plot] table[x index=0, y index=#1] {\blackB};}
  \pgfplotsinvokeforeach{1,...,4}{\addplot[blk, forget plot] table[x index=0, y index=#1] {\blackBB};}
  \addplot[blk, forget plot] coordinates {
    (2058,1.85)(688,1.74)(698,1.66)(540,1.65)(672,1.48)(725,1.40)(1174,1.48)(1412,1.57)
    (2211,1.52)(2788,1.57)(3216,1.52)(3968,1.55)(4005,1.48)(815,0.52)(1132,0.56)(2380,0.56)
    (3343,0.50)(3438,0.60)(5248,1.20)(6180,1.18)(5300,0.87)(5443,0.90)(5618,0.89)(5450,0.92)
    (5221,1.04)(196,1.01)(196,0.96)(1200,0.60)(1300,0.65)(3480,0.62)(3600,0.64)(4550,0.66)
    (4640,0.63)(4780,0.62)(4880,0.66)(4450,0.68)(2500,0.64)(2620,0.65)(1050,0.63)(560,0.67)};
  \pgfplotsinvokeforeach{1,...,7}{\addplot[rd, forget plot] table[x index=0, y index=#1] {\redB};}
  \pgfplotsinvokeforeach{1,...,6}{\addplot[rd, forget plot] table[x index=0, y index=#1] {\redBB};}
  \addplot[rd, forget plot] coordinates {
    (238,0.87)(2603,1.73)(2650,1.58)(2680,1.62)(2700,1.56)(2740,1.64)(2790,1.60)(2840,1.65)
    (2660,1.52)(2720,1.50)(1370,1.57)(1385,1.58)(3317,1.55)(3343,1.57)(3290,1.48)(3423,1.46)
    (3360,1.42)(4005,1.50)(4042,1.48)(4060,1.43)(4454,1.50)(4640,1.46)(4719,1.46)(4780,1.43)
    (4867,1.51)(4900,1.40)(5396,1.43)(1545,0.55)(1571,0.56)(1836,0.56)(1889,0.58)(1016,0.69)
    (794,0.69)(480,0.70)(3000,0.71)(3350,0.62)(4500,0.70)(4700,0.68)};
  \node[anchor=west, inner sep=0pt, text=blue, font=\fontsize{15}{18}\selectfont] at (axis cs:5390,1.34) {+20\%};
  \node[anchor=west, inner sep=0pt, text=blue, font=\fontsize{15}{18}\selectfont] at (axis cs:5390,0.545) {-20\%};
\end{axis}
\begin{scope}[font=\fontsize{15}{18}\selectfont]
  \node[anchor=base west, inner sep=0pt] at (309pt,370pt) {<LUT HBM>};
  \node[anchor=base west, inner sep=0pt] at (309pt,353pt) {Total data \#: 13,818};
  \node[anchor=base west, inner sep=0pt] at (309pt,336pt) {Mean P/M: 0.940};
  \node[anchor=base west, inner sep=0pt] at (309pt,319pt) {Std. P/M: 0.110};
\end{scope}
\end{tikzpicture}
\end{document}
